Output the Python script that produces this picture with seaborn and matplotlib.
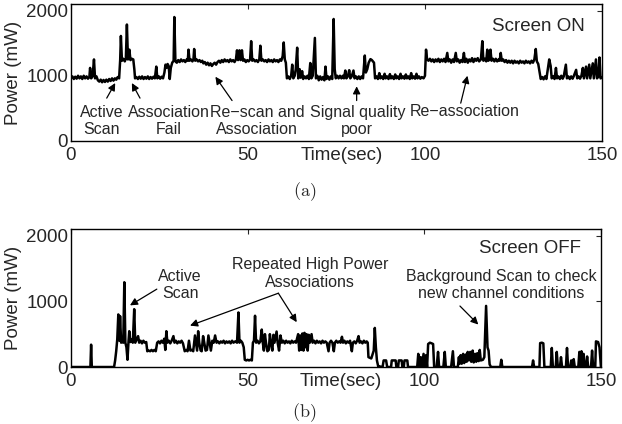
import matplotlib
matplotlib.use('Agg')
import matplotlib.pyplot as plt
import seaborn as sns

# power trace, screen ON (time in s, power in mW)
on_time = [0, 0.4, 0.8, 1.2, 1.6, 2.0, 2.4, 2.8, 3.2, 3.6, 4.0, 4.4, 4.8, 5.2, 5.4, 5.7, 6.1, 6.5, 6.8,
           7.2, 7.6, 8.0, 8.4, 8.8, 9.2, 9.6, 10.0, 10.4, 10.8, 11.2, 11.6, 12.0, 12.4, 12.8, 13.2, 13.6,
           13.9, 14.1, 14.4, 14.8, 15.2, 15.5, 15.8, 16.1, 16.5, 16.8, 17.2, 17.6, 17.9, 18.1, 18.5, 18.9,
           19.3, 19.7, 20.1, 20.5, 20.9, 21.3, 21.7, 22.1, 22.5, 22.9, 23.3, 23.7, 24.1, 24.4, 24.8, 25.2,
           25.6, 26.0, 26.4, 26.7, 27.0, 27.3, 27.6, 27.9, 28.2, 28.6, 29.0, 29.2, 29.5, 29.9, 30.3, 30.7,
           31.1, 31.5, 31.9, 32.3, 32.7, 33.0, 33.2, 33.5, 33.9, 34.3, 34.6, 34.8, 35.1, 35.5, 35.9, 36.3,
           36.7, 37.1, 37.4, 37.8, 38.2, 38.6, 39.0, 39.4, 39.8, 40.2, 40.6, 41.0, 41.4, 41.8, 42.2, 42.6,
           43.0, 43.4, 43.8, 44.2, 44.6, 45.0, 45.4, 45.8, 46.2, 46.6, 46.9, 47.2, 47.6, 47.9, 48.3, 48.6,
           49.0, 49.4, 49.8, 50.2, 50.6, 50.9, 51.2, 51.6, 52.0, 52.4, 52.8, 53.2, 53.5, 53.8, 54.2, 54.6,
           55.0, 55.4, 55.8, 56.2, 56.6, 57.0, 57.4, 57.8, 58.2, 58.6, 59.0, 59.4, 59.8, 60.1, 60.4, 60.7,
           61.0, 61.4, 61.8, 62.2, 62.5, 62.8, 63.2, 63.5, 63.9, 64.2, 64.6, 64.9, 65.3, 65.6, 66.0, 66.4,
           66.8, 67.2, 67.6, 67.9, 68.3, 68.9, 69.2, 69.6, 70.0, 70.4, 70.8, 71.2, 71.6, 71.9, 72.2, 72.6,
           73.0, 73.4, 73.8, 74.2, 74.5, 74.8, 75.2, 75.6, 76.0, 76.4, 76.8, 77.1, 77.5, 77.8, 78.2, 78.6,
           78.9, 79.3, 79.8, 80.1, 80.5, 80.9, 81.3, 81.7, 82.1, 82.5, 83.0, 83.3, 83.7, 84.1, 84.6, 85.0,
           85.6, 85.9, 86.3, 86.7, 87.1, 87.4, 87.8, 88.2, 88.6, 88.9, 89.3, 89.7, 90.1, 90.4, 90.8, 91.2,
           91.6, 91.9, 92.3, 92.7, 93.1, 93.4, 93.8, 94.2, 94.6, 94.9, 95.3, 95.7, 96.1, 96.4, 96.8, 97.2,
           97.6, 97.9, 98.3, 98.7, 99.1, 99.6, 100.0, 100.3, 100.6, 101.0, 101.4, 101.8, 102.2, 102.6,
           103.0, 103.4, 103.8, 104.2, 104.6, 105.0, 105.4, 105.8, 106.3, 106.6, 107.0, 107.4, 107.8,
           108.2, 108.7, 109.0, 109.4, 109.8, 110.2, 110.6, 111.0, 111.3, 111.7, 112.1, 112.5, 112.9,
           113.3, 113.7, 114.1, 114.5, 114.9, 115.3, 115.8, 116.2, 116.5, 116.9, 117.3, 117.6, 117.9,
           118.2, 118.5, 118.8, 119.2, 119.6, 120.0, 120.4, 120.8, 121.1, 121.4, 121.7, 122.1, 122.5,
           122.9, 123.3, 123.7, 124.1, 124.5, 124.9, 125.3, 125.7, 126.1, 126.5, 126.9, 127.3, 127.7,
           128.1, 128.5, 128.9, 129.3, 129.7, 130.1, 130.5, 130.9, 131.3, 131.6, 132.0, 132.4, 132.7,
           133.1, 133.5, 133.9, 134.3, 134.7, 135.1, 135.5, 135.8, 136.2, 136.6, 137.0, 137.3, 137.7,
           138.1, 138.5, 138.9, 139.2, 139.8, 140.1, 140.5, 140.9, 141.3, 141.7, 142.0, 142.7, 143.0,
           143.4, 143.8, 144.2, 144.6, 144.9, 145.5, 145.8, 146.4, 146.7, 147.4, 147.7, 148.3, 148.6,
           149.0, 149.3, 149.6, 150.0]
on_power = [960, 990, 950, 985, 955, 1000, 960, 990, 950, 1000, 960, 990, 955, 980, 1120, 960, 990, 1250, 960,
            990, 930, 910, 940, 900, 935, 905, 940, 910, 950, 920, 960, 925, 960, 940, 980, 960,
            1240, 1610, 1230, 1260, 1220, 1260, 1785, 1250, 1400, 1240, 1260, 1250, 1100, 960, 980, 950,
            985, 955, 990, 950, 980, 955, 990, 950, 980, 955, 985, 960, 1140, 960, 990, 955,
            985, 960, 1050, 1170, 1120, 1180, 1150, 950, 1120, 1200, 1230, 1900, 1220, 1200, 1240, 1210,
            1250, 1220, 1240, 1210, 1250, 1230, 1400, 1230, 1250, 1220, 1250, 1410, 1230, 1250, 1220, 1240,
            1210, 1230, 1190, 1210, 1170, 1200, 1160, 1190, 1150, 1180, 1200, 1170, 1210, 1230, 1200, 1240,
            1210, 1250, 1220, 1240, 1210, 1250, 1220, 1240, 1210, 1250, 1390, 1240, 1390, 1240, 1390, 1230,
            1250, 1210, 1240, 1220, 1250, 1530, 1230, 1250, 1220, 1240, 1210, 1250, 1460, 1230, 1250, 1220,
            1240, 1210, 1250, 1220, 1240, 1210, 1250, 1220, 1240, 1210, 1250, 1230, 1300, 1510, 1250, 1200,
            960, 990, 950, 1000, 1170, 960, 1000, 1100, 1430, 960, 1100, 970, 1070, 950, 990, 960,
            1000, 950, 1195, 960, 1000, 1580, 960, 1000, 930, 990, 940, 980, 930, 1140, 950, 990,
            940, 990, 950, 1870, 1100, 960, 1000, 960, 1000, 960, 1000, 960, 1080, 960, 990, 1085,
            960, 990, 1080, 960, 990, 950, 990, 950, 990, 960, 1310, 1050, 1100, 1200, 1255, 1240,
            1200, 960, 990, 950, 1040, 960, 990, 950, 1030, 960, 990, 950, 1025, 960, 990, 950,
            1020, 960, 990, 950, 1030, 960, 990, 955, 1020, 960, 990, 950, 1040, 960, 990, 955,
            1030, 960, 990, 955, 980, 960, 1000, 1400, 1250, 1230, 1260, 1220, 1250, 1210,
            1250, 1220, 1260, 1210, 1250, 1220, 1260, 1210, 1350, 1220, 1250, 1200, 1250,
            1210, 1350, 1220, 1250, 1200, 1240, 1210, 1350, 1210, 1260, 1200, 1250, 1220,
            1270, 1210, 1260, 1230, 1270, 1220, 1250, 1530, 1230, 1260, 1220, 1400, 1230,
            1250, 1400, 1230, 1260, 1220, 1260, 1220, 1250, 1230, 1350, 1230, 1250, 1210,
            1240, 1200, 1230, 1200, 1230, 1190, 1230, 1200, 1220, 1190, 1230, 1200, 1220,
            1190, 1230, 1200, 1220, 1190, 1230, 1200, 1250, 1410, 1220, 1180, 1050, 950,
            980, 945, 990, 950, 1100, 1250, 1150, 960, 990, 950, 1120, 960, 990,
            950, 1000, 955, 990, 1170, 960, 990, 950, 990, 955, 990, 1090, 960,
            990, 955, 1000, 1120, 960, 1140, 960, 1170, 960, 1190, 960, 1250, 960,
            990, 1280, 960, 970]

# power trace, screen OFF
off_time = [0, 5.5, 5.7, 5.9, 12.2, 12.5, 12.8, 13.1, 13.4, 13.7, 13.9, 14.2, 14.6, 14.8, 15.1, 15.4, 15.7,
            16.0, 16.3, 16.5, 16.8, 17.2, 17.5, 17.9, 18.2, 18.6, 19.0, 19.3, 19.7, 20.1, 20.5, 20.9, 21.3,
            21.6, 22.0, 22.4, 22.8, 23.2, 23.6, 24.0, 24.4, 24.8, 25.2, 25.6, 26.0, 26.4, 26.7, 27.0, 27.3,
            27.7, 28.1, 28.5, 29.0, 29.3, 29.7, 30.1, 30.5, 30.9, 31.3, 31.7, 32.2, 32.6, 33.0, 33.4, 33.8,
            34.2, 34.6, 35.1, 35.4, 35.7, 36.0, 36.3, 36.7, 37.0, 37.4, 37.7, 38.1, 38.5, 38.9, 39.2, 39.6,
            40.0, 40.4, 40.8, 41.2, 41.6, 42.0, 42.4, 42.8, 43.2, 43.6, 44.0, 44.4, 44.8, 45.2, 45.6, 46.0,
            46.5, 47.0, 47.4, 47.7, 48.1, 48.5, 48.9, 49.2, 49.6, 50.0, 50.4, 50.8, 51.2, 51.5, 51.8, 52.1,
            52.4, 52.8, 53.2, 53.6, 54.0, 54.3, 54.6, 54.9, 55.2, 55.6, 56.0, 56.3, 56.6, 57.0, 57.3, 57.6,
            58.2, 58.5, 58.9, 59.3, 59.7, 60.1, 60.5, 60.9, 61.3, 61.7, 62.1, 62.5, 62.9, 63.3, 63.7, 64.3,
            64.6, 64.9, 65.2, 65.5, 65.8, 66.1, 66.4, 66.7, 67.0, 67.3, 67.6, 68.1, 68.4, 68.8, 69.2, 69.6,
            70.0, 70.4, 70.8, 71.2, 71.6, 72.0, 72.4, 72.9, 73.2, 73.6, 74.0, 74.4, 74.7, 75.1, 75.5, 75.9,
            76.3, 76.7, 77.0, 77.4, 77.8, 78.2, 78.6, 79.0, 79.5, 79.8, 80.2, 80.6, 81.0, 81.4, 81.7, 82.1,
            82.5, 82.9, 83.3, 83.7, 84.0, 84.2, 84.6, 85.0, 85.4, 85.7, 86.0, 86.3, 86.6, 87.0, 87.4, 87.8,
            88.2, 88.5, 89.2, 89.5, 90.6, 90.8, 91.9, 92.1, 92.6, 92.8, 93.6, 93.8, 94.2, 94.4, 95.2, 95.4,
            96.5, 98.0, 98.3, 98.6, 99.0, 99.3, 99.8, 100.1, 100.5, 100.8, 101.1, 101.6, 102.1, 102.5,
            102.8, 103.5, 103.9, 104.2, 105.4, 105.8, 106.1, 107.6, 108.1, 108.4, 109.5, 109.8, 110.0,
            110.3, 110.6, 111.0, 111.3, 111.7, 112.0, 112.3, 112.6, 113.0, 113.3, 113.7, 114.0, 114.4,
            114.7, 115.0, 115.4, 115.7, 116.0, 116.6, 117.0, 117.5, 117.9, 118.2, 118.5, 118.9, 121.5,
            121.8, 122.1, 130.5, 130.8, 131.1, 132.6, 132.8, 133.3, 133.7, 134.0, 135.8, 136.1, 136.4,
            137.2, 137.5, 137.8, 138.4, 138.7, 139.0, 140.1, 140.4, 140.7, 141.3, 141.6, 141.9, 142.1,
            142.3, 142.6, 143.6, 143.9, 144.2, 144.5, 144.8, 145.1, 145.4, 145.8, 146.1, 146.4, 147.2,
            147.5, 147.8, 148.4, 148.6, 149.2, 149.6, 150.0]
off_power = [0, 0, 340, 0, 0, 100, 240, 420, 800, 400, 775, 370, 400, 370, 1290, 370, 300,
             110, 400, 545, 380, 420, 370, 880, 370, 420, 470, 370, 400, 360, 400, 370, 380,
             240, 250, 240, 260, 240, 260, 240, 370, 390, 360, 400, 370, 430, 260, 545, 370,
             400, 360, 400, 470, 370, 400, 360, 390, 370, 400, 360, 240, 260, 240, 400, 250,
             260, 240, 480, 370, 250, 545, 370, 250, 240, 470, 380, 250, 260, 480, 380, 250,
             400, 370, 480, 370, 390, 360, 390, 370, 400, 360, 390, 370, 390, 360, 400, 370,
             390, 370, 830, 370, 400, 370, 300, 110, 100, 110, 100, 110, 100, 370, 400, 780,
             370, 400, 360, 390, 570, 370, 250, 500, 370, 240, 260, 500, 370, 250, 490, 370,
             540, 370, 250, 480, 370, 400, 360, 400, 370, 390, 360, 400, 370, 390, 370, 500,
             250, 480, 260, 510, 250, 520, 300, 500, 250, 490, 370, 500, 370, 400, 360, 400,
             370, 390, 360, 400, 370, 390, 370, 240, 370, 400, 370, 240, 370, 400, 370, 390,
             370, 460, 370, 400, 360, 390, 370, 400, 240, 370, 390, 360, 400, 470, 370, 390,
             360, 400, 370, 390, 370, 150, 140, 130, 200, 250, 595, 300, 100, 0, 10, 0,
             0, 100, 100, 0, 0, 100, 100, 0, 0, 100, 100, 0, 0, 100, 100, 0,
             0, 0, 200, 0, 150, 0, 200, 0, 180, 0, 350, 370, 360, 350,
             0, 0, 230, 0, 0, 230, 0, 0, 240, 0, 0, 150, 50,
             180, 50, 200, 60, 190, 80, 230, 100, 230, 80, 250, 70, 200,
             80, 210, 90, 260, 100, 110, 150, 930, 300, 250, 40, 0, 0,
             110, 0, 0, 100, 0, 0, 364, 370, 360, 0, 0, 290, 0,
             0, 230, 0, 0, 150, 0, 0, 290, 0, 0, 100, 0, 0,
             120, 0, 0, 230, 0, 240, 0, 200, 0, 0, 160, 0, 0,
             250, 0, 0, 390, 380, 300, 0]

x_ticks = [0, 50, 100, 150]
y_ticks = [0, 1000, 2000]

sns.set_style('white')
plt.rcParams['font.family'] = ['Liberation Sans', 'DejaVu Sans']
plt.rcParams['mathtext.fontset'] = 'cm'

fig = plt.figure(figsize=(6.22, 4.24), dpi=100)
ax1 = fig.add_axes([0.1141, 0.6675, 0.8537, 0.3231])
ax2 = fig.add_axes([0.1141, 0.1344, 0.852, 0.3255])

sns.lineplot(x=on_time, y=on_power, ax=ax1, color='k', lw=1.8, estimator=None, sort=False)
sns.lineplot(x=off_time, y=off_power, ax=ax2, color='k', lw=1.8, estimator=None, sort=False)

for ax in (ax1, ax2):
    ax.set_xlim(0, 150)
    ax.set_ylim(0, 2100)
    ax.set_xticks(x_ticks)
    ax.set_yticks(y_ticks)
    ax.tick_params(direction='in', top=True, right=True, length=3.5, width=0.8,
                   labelsize=13.5, pad=4)
    ax.tick_params(axis='y', pad=2)
    for s in ax.spines.values():
        s.set_linewidth(1.0)
        s.set_color('k')
    ax.set_xlabel('Time(sec)', fontsize=13.5)
    ax.xaxis.set_label_coords(0.51, -0.045)
    ax.set_ylabel('Power (mW)', fontsize=13.5)
    ax.yaxis.set_label_coords(-0.093, 0.5)

arr = dict(arrowstyle='-|>', color='k', lw=0.9, mutation_scale=11, shrinkA=0, shrinkB=0)
fs = 11.5
ls = 1.2

# (a) screen on
ax1.text(131.9, 1760, 'Screen ON', fontsize=13.5, ha='center', va='center')
ax1.text(8.7, 310, 'Active\nScan', fontsize=fs, ha='center', va='center', linespacing=ls)
ax1.annotate('', xy=(12.5, 888), xytext=(10.1, 657), arrowprops=arr)
ax1.text(27.7, 310, 'Association\nFail', fontsize=fs, ha='center', va='center', linespacing=ls)
ax1.annotate('', xy=(17.2, 888), xytext=(19.5, 657), arrowprops=arr)
ax1.text(52.5, 310, 'Re\u2212scan and\nAssociation', fontsize=fs, ha='center', va='center', linespacing=ls)
ax1.annotate('', xy=(40.8, 985), xytext=(45.5, 620), arrowprops=arr)
ax1.text(80.9, 310, 'Signal quality\npoor', fontsize=fs, ha='center', va='center', linespacing=ls)
ax1.annotate('', xy=(80.7, 838), xytext=(80.7, 620), arrowprops=arr)
ax1.text(111.2, 450, 'Re\u2212association', fontsize=fs, ha='center', va='center')
ax1.annotate('', xy=(112.0, 1000), xytext=(110.1, 580), arrowprops=arr)

# (b) screen off
ax2.text(129.9, 1810, 'Screen OFF', fontsize=13.5, ha='center', va='center')
ax2.text(30.9, 1250, 'Active\nScan', fontsize=fs, ha='center', va='center', linespacing=ls)
ax2.annotate('', xy=(16.7, 938), xytext=(24.3, 1185), arrowprops=arr)
ax2.text(67.6, 1423, 'Repeated High Power\nAssociations', fontsize=fs, ha='center', va='center',
         linespacing=ls)
ax2.annotate('', xy=(33.7, 630), xytext=(58.7, 1123), arrowprops=arr)
ax2.annotate('', xy=(63.9, 682), xytext=(58.7, 1123), arrowprops=arr)
ax2.text(121.7, 1244, 'Background Scan to check\nnew channel conditions', fontsize=fs, ha='center',
         va='center', linespacing=ls)
ax2.annotate('', xy=(115.3, 646), xytext=(110.1, 928), arrowprops=arr)

fig.text(0.489, 0.548, r'$\mathrm{(a)}$', fontsize=13, ha='center', va='center')
fig.text(0.489, 0.026, r'$\mathrm{(b)}$', fontsize=13, ha='center', va='center')

fig.savefig('out.png', dpi=100)
